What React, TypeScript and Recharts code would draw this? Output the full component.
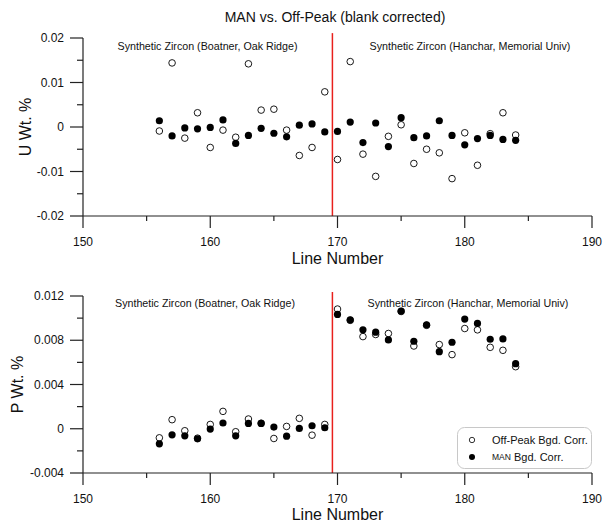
import React from 'react';
import { ScatterChart, Scatter, XAxis, YAxis, ReferenceLine, Legend, Label, Customized } from 'recharts';

const lineNumbers = [156, 157, 158, 159, 160, 161, 162, 163, 164, 165, 166, 167, 168, 169, 170, 171, 172, 173, 174, 175, 176, 177, 178, 179, 180, 181, 182, 183, 184];

const uOffPeak = [-0.0009, 0.0144, -0.0025, 0.0032, -0.0046, -0.0007, -0.0023, 0.0142, 0.0038, 0.004, -0.0007, -0.0064, -0.0046, 0.0079, -0.0073, 0.0147, -0.0061, -0.0111, -0.0021, 0.0005, -0.0082, -0.005, -0.0058, -0.0116, -0.0013, -0.0086, -0.0015, 0.0032, -0.0018];
const uMan = [0.0014, -0.002, -0.0002, -0.0004, -0.0001, 0.0016, -0.0037, -0.0019, -0.0003, -0.0014, -0.0022, 0.0004, 0.0007, -0.0011, -0.001, 0.0011, -0.0035, 0.0009, -0.0044, 0.0021, -0.0024, -0.002, 0.0014, -0.0019, -0.004, -0.0026, -0.0019, -0.0028, -0.003];

const pOffPeak = [-0.00082, 0.00082, -0.00018, -0.00085, 0.00039, 0.00157, -0.00027, 0.00088, 0.0005, -0.00088, 0.00021, 0.00094, -0.00058, 0.00039, 0.01082, 0.0098, 0.00833, 0.00852, 0.00861, 0.0106, 0.00748, 0.00935, 0.00761, 0.0067, 0.00906, 0.00894, 0.00736, 0.00709, 0.00561];
const pMan = [-0.00136, -0.00055, -0.00064, -0.00091, -0.00003, 0.00052, -0.00064, 0.00048, 0.00048, 0.00015, -0.00067, 0.00003, 0.00027, 0.00009, 0.01033, 0.00985, 0.00894, 0.00873, 0.00803, 0.01064, 0.00791, 0.00939, 0.00697, 0.00782, 0.00991, 0.00952, 0.00809, 0.00812, 0.00588];

const xTicks = [150, 155, 160, 165, 170, 175, 180, 185, 190];
const xMajorTicks = [150, 160, 170, 180, 190];
const uTicks = [-0.02, -0.015, -0.01, -0.005, 0, 0.005, 0.01, 0.015, 0.02];
const uMajorTicks = [-0.02, -0.01, 0, 0.01, 0.02];
const pTicks = [-0.004, -0.002, 0, 0.002, 0.004, 0.006, 0.008, 0.01, 0.012];
const pMajorTicks = [-0.004, 0, 0.004, 0.008, 0.012];

const dividerLine = 169.6;
const chartTitle = 'MAN vs. Off-Peak (blank corrected)';
const seriesNames = ['Off-Peak Bgd. Corr.', 'MAN Bgd. Corr.'];
const groupLabels = ['Synthetic Zircon (Boatner, Oak Ridge)', 'Synthetic Zircon (Hanchar, Memorial Univ)'];
const xAxisTitle = 'Line Number';
const uAxisTitle = 'U Wt. %';
const pAxisTitle = 'P Wt. %';

const FONT = '"Liberation Sans", Arial, Helvetica, sans-serif';
const AX = '#222';
const TXT = '#111';

const toPoints = (ys: number[]) => lineNumbers.map((x, i) => ({ x, y: ys[i] }));
const isIn = (arr: number[], v: number) => arr.some((m) => Math.abs(m - v) < 1e-9);

const makeXTick = (majors: number[]) => (props: any) => {
  const { x, y, payload } = props;
  const major = isIn(majors, payload.value);
  return (
    <g>
      <line x1={x} x2={x} y1={y} y2={y + (major ? 12 : 5)} stroke={AX} strokeWidth={1.2} />
      {major && (
        <text x={x} y={y + 26} textAnchor="middle" dominantBaseline="central" fontSize={12} fill={TXT} fontFamily={FONT}>
          {String(payload.value)}
        </text>
      )}
    </g>
  );
};

const makeYTick = (majors: number[]) => (props: any) => {
  const { x, y, payload } = props;
  const major = isIn(majors, payload.value);
  return (
    <g>
      <line x1={x} x2={x - (major ? 13 : 6)} y1={y} y2={y} stroke={AX} strokeWidth={1.2} />
      {major && (
        <text x={x - 19} y={y} textAnchor="end" dominantBaseline="central" fontSize={12} fill={TXT} fontFamily={FONT}>
          {String(payload.value)}
        </text>
      )}
    </g>
  );
};

const xTitle = (dy: number) => (p: any) => {
  const vb = p.viewBox || { x: 83, y: 216, width: 509, height: 54 };
  return (
    <text x={vb.x + vb.width / 2} y={vb.y + dy} textAnchor="middle" dominantBaseline="central" fontSize={16} fill={TXT} fontFamily={FONT}>
      {xAxisTitle}
    </text>
  );
};

const yTitle = (text: string, cx: number) => (p: any) => {
  const vb = p.viewBox || { x: 0, y: 38, width: 83, height: 178 };
  const cy = vb.y + vb.height / 2;
  return (
    <text x={cx} y={cy} transform={`rotate(-90, ${cx}, ${cy})`} textAnchor="middle" dominantBaseline="central" fontSize={16} fill={TXT} fontFamily={FONT}>
      {text}
    </text>
  );
};

const OpenDot = (p: any) => <circle cx={p.cx} cy={p.cy} r={3.3} fill="#fff" stroke="#000" strokeWidth={0.9} />;
const FilledDot = (p: any) => <circle cx={p.cx} cy={p.cy} r={3.6} fill="#000" stroke="none" />;

const annotations = (y: number, x1: number, x2: number, withTitle: boolean) => () => (
  <g fontFamily={FONT} fill={TXT}>
    {withTitle && (
      <text x={335} y={17} textAnchor="middle" dominantBaseline="central" fontSize={14}>
        {chartTitle}
      </text>
    )}
    <text x={x1} y={y} textAnchor="middle" dominantBaseline="central" fontSize={10.7}>
      {groupLabels[0]}
    </text>
    <text x={x2} y={y} textAnchor="middle" dominantBaseline="central" fontSize={10.7}>
      {groupLabels[1]}
    </text>
  </g>
);

const LegendBox = () => {
  const [first, second] = seriesNames;
  const secondWords = second.split(' ');
  return (
    <svg width={135} height={42} style={{ display: 'block' }}>
      <rect x={0.5} y={0.5} width={134} height={41} rx={7} ry={7} fill="#fff" stroke="#c8c8c8" strokeWidth={1} />
      <circle cx={15} cy={13} r={2.7} fill="#fff" stroke="#000" strokeWidth={0.8} />
      <text x={35} y={13} dominantBaseline="central" fontSize={11} fill={TXT} fontFamily={FONT}>
        {first}
      </text>
      <circle cx={15} cy={30} r={3} fill="#000" />
      <text x={35} y={30} dominantBaseline="central" fontSize={11} fill={TXT} fontFamily={FONT}>
        <tspan fontSize={8.5}>{secondWords[0]}</tspan>
        {' ' + secondWords.slice(1).join(' ')}
      </text>
    </svg>
  );
};

export default function App() {
  const uOffData = toPoints(uOffPeak);
  const uManData = toPoints(uMan);
  const pOffData = toPoints(pOffPeak);
  const pManData = toPoints(pMan);
  const axisLine = { stroke: AX, strokeWidth: 1.2 };

  return (
    <div style={{ position: 'absolute', left: 0, top: 0, width: 604, height: 522, background: '#fff', fontFamily: FONT }}>
      <div style={{ position: 'absolute', left: 0, top: 0 }}>
        <ScatterChart width={604} height={270} margin={{ top: 38, right: 12, bottom: 0, left: 0 }}>
          <XAxis type="number" dataKey="x" domain={[150, 190]} ticks={xTicks} interval={0} tickSize={0} tickMargin={0} tickLine={false} tick={makeXTick(xMajorTicks)} axisLine={axisLine} height={54} allowDataOverflow>
            <Label content={xTitle(42)} />
          </XAxis>
          <YAxis type="number" dataKey="y" domain={[-0.02, 0.02]} ticks={uTicks} interval={0} tickSize={0} tickMargin={0} tickLine={false} tick={makeYTick(uMajorTicks)} axisLine={axisLine} width={83} allowDataOverflow>
            <Label content={yTitle(uAxisTitle, 25)} />
          </YAxis>
          <ReferenceLine segment={[{ x: dividerLine, y: -0.02 }, { x: dividerLine, y: 0.0211 }]} stroke="#e8201c" strokeWidth={1.5} ifOverflow="visible" />
          <Scatter name={seriesNames[0]} data={uOffData} shape={OpenDot} isAnimationActive={false} />
          <Scatter name={seriesNames[1]} data={uManData} shape={FilledDot} isAnimationActive={false} />
          <Customized component={annotations(46, 207.5, 470, true)} />
        </ScatterChart>
      </div>
      <div style={{ position: 'absolute', left: 0, top: 270 }}>
        <ScatterChart width={604} height={252} margin={{ top: 26, right: 12, bottom: 0, left: 0 }}>
          <XAxis type="number" dataKey="x" domain={[150, 190]} ticks={xTicks} interval={0} tickSize={0} tickMargin={0} tickLine={false} tick={makeXTick(xMajorTicks)} axisLine={axisLine} height={49} allowDataOverflow>
            <Label content={xTitle(41)} />
          </XAxis>
          <YAxis type="number" dataKey="y" domain={[-0.004, 0.012]} ticks={pTicks} interval={0} tickSize={0} tickMargin={0} tickLine={false} tick={makeYTick(pMajorTicks)} axisLine={axisLine} width={83} allowDataOverflow>
            <Label content={yTitle(pAxisTitle, 17)} />
          </YAxis>
          <ReferenceLine segment={[{ x: dividerLine, y: -0.004 }, { x: dividerLine, y: 0.01236 }]} stroke="#e8201c" strokeWidth={1.5} ifOverflow="visible" />
          <Scatter name={seriesNames[0]} data={pOffData} shape={OpenDot} isAnimationActive={false} />
          <Scatter name={seriesNames[1]} data={pManData} shape={FilledDot} isAnimationActive={false} />
          <Legend layout="horizontal" verticalAlign="middle" align="center" wrapperStyle={{ position: 'absolute', left: 457, top: 157, width: 135, height: 42 }} content={() => <LegendBox />} />
          <Customized component={annotations(32.7, 205, 468, false)} />
        </ScatterChart>
      </div>
    </div>
  );
}
